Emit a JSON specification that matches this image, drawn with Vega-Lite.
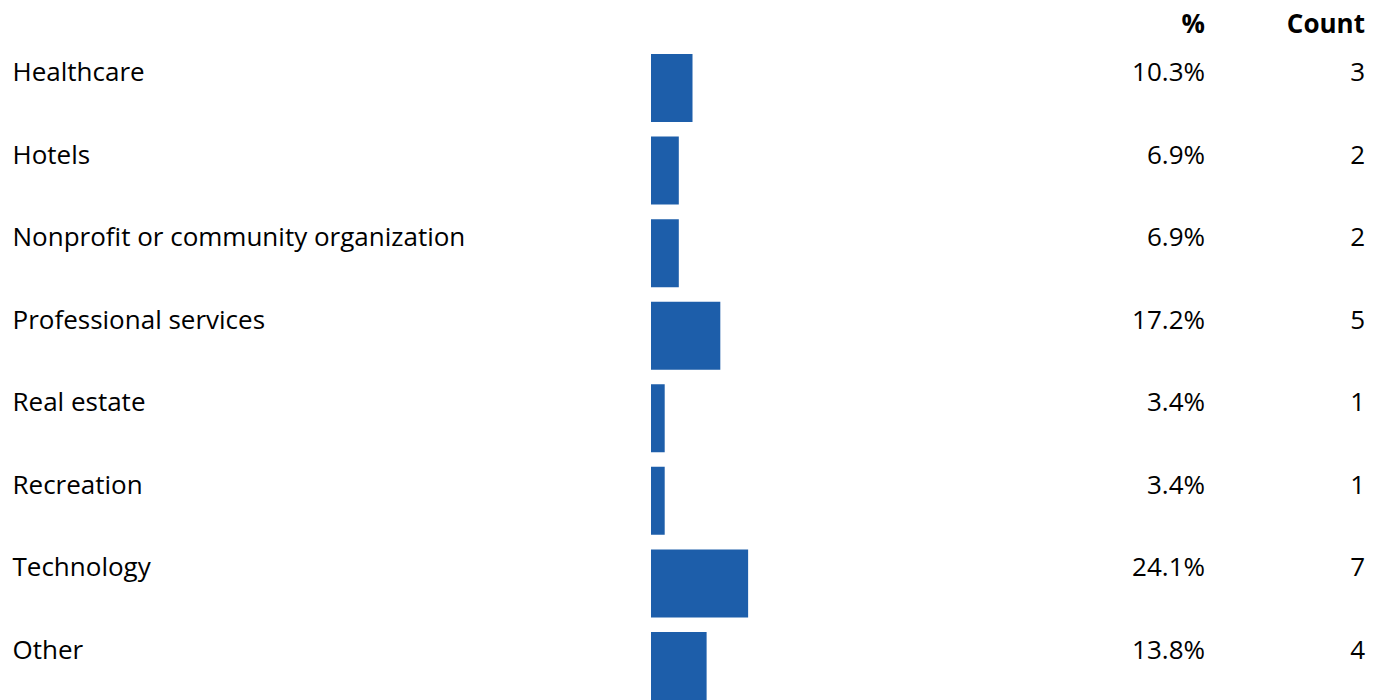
{
  "$schema": "https://vega.github.io/schema/vega-lite/v6.json",
  "padding": {"left": 12, "top": 12, "right": 12, "bottom": 0},
  "background": "white",
  "data": {"values": [
    {"category": "Healthcare", "pct": 0.103, "count": 3},
    {"category": "Hotels", "pct": 0.069, "count": 2},
    {"category": "Nonprofit or community organization", "pct": 0.069, "count": 2},
    {"category": "Professional services", "pct": 0.172, "count": 5},
    {"category": "Real estate", "pct": 0.034, "count": 1},
    {"category": "Recreation", "pct": 0.034, "count": 1},
    {"category": "Technology", "pct": 0.241, "count": 7},
    {"category": "Other", "pct": 0.138, "count": 4}
  ]},
  "config": {
    "view": {"stroke": null},
    "font": "Open Sans",
    "title": {"font": "Open Sans", "fontSize": 26, "fontWeight": "bold", "color": "black", "anchor": "end", "frame": "group", "baseline": "alphabetic", "offset": 16}
  },
  "bounds": "flush",
  "spacing": 0,
  "hconcat": [
    {
      "width": 403,
      "height": 646,
      "mark": {"type": "bar", "color": "#1d5eaa"},
      "encoding": {
        "y": {"field": "category", "type": "nominal", "sort": null,
          "scale": {"type": "band", "paddingInner": 0.1765, "paddingOuter": 0},
          "axis": {"title": null, "domain": false, "ticks": false, "tickSize": 0, "labelAlign": "left", "labelPadding": 639, "labelOffset": -15, "labelBaseline": "middle", "labelFontSize": 26, "labelColor": "black", "labelLimit": 0, "labelFont": "Open Sans"}},
        "x": {"field": "pct", "type": "quantitative", "scale": {"domain": [0, 1]}, "axis": null}
      }
    },
    {
      "width": 151,
      "height": 646,
      "title": {"text": "%"},
      "mark": {"type": "text", "align": "right", "baseline": "middle", "fontSize": 26, "dy": -15, "color": "black"},
      "encoding": {
        "y": {"field": "category", "type": "nominal", "sort": null,
          "scale": {"type": "band", "paddingInner": 0.1765, "paddingOuter": 0}, "axis": null},
        "x": {"value": "width"},
        "text": {"field": "pct", "type": "quantitative", "format": ".1%"}
      }
    },
    {
      "width": 160,
      "height": 646,
      "title": {"text": "Count"},
      "mark": {"type": "text", "align": "right", "baseline": "middle", "fontSize": 26, "dy": -15, "color": "black"},
      "encoding": {
        "y": {"field": "category", "type": "nominal", "sort": null,
          "scale": {"type": "band", "paddingInner": 0.1765, "paddingOuter": 0}, "axis": null},
        "x": {"value": "width"},
        "text": {"field": "count", "type": "quantitative"}
      }
    }
  ]
}
